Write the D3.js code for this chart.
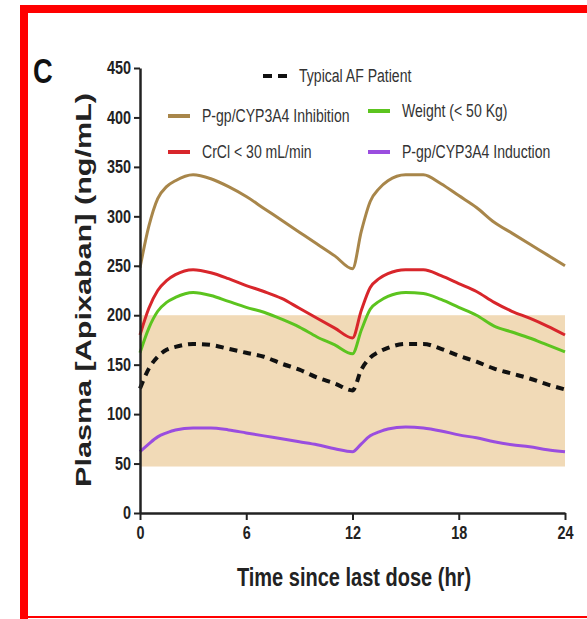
<!DOCTYPE html>
<html>
<head>
<meta charset="utf-8">
<script src="https://cdn.jsdelivr.net/npm/d3@7.9.0/dist/d3.min.js"></script>
<style>
  body { margin: 0; background: #fff; }
  svg { display: block; }
  .tick text { font-family: "Liberation Sans", Arial, sans-serif; font-weight: bold; font-size: 18px; fill: #222; }
  .legend text { font-family: "Liberation Sans", Arial, sans-serif; font-size: 18px; fill: #333; }
</style>
</head>
<body>
<svg id="chart" width="587" height="619"></svg>
<script>
// hours after dose
const hours = [0, 0.5, 1, 1.5, 2, 3, 4, 5, 6, 7, 8, 9, 10, 11, 12,
  12.5, 13, 13.5, 14, 15, 16, 17, 18, 19, 20, 21, 22, 23, 24];

const inhibition = [248, 290, 318, 330, 336, 342, 338, 330, 320, 308, 296, 284, 272, 260, 247,
  285, 315, 328, 336, 342, 342, 333, 321, 309, 294, 283, 272, 261, 250];
const crcl = [180, 207, 225, 235, 241, 246, 243, 237, 230, 224, 217, 207, 197, 187, 177,
  205, 228, 237, 242, 246, 246, 240, 232, 224, 213, 204, 197, 189, 180];
const weight = [162, 187, 204, 213, 218, 223, 220, 214, 208, 203, 196, 188, 178, 170, 161,
  185, 206, 214, 219, 223, 222, 216, 208, 200, 189, 183, 177, 170, 163];
const typical = [126, 146, 158, 165, 168, 171, 170, 166, 162, 158, 151, 145, 137, 131, 124,
  145, 157, 163, 167, 171, 171, 166, 159, 153, 146, 141, 136, 130, 125];
const induction = [62, 70, 77, 81, 84, 86, 86, 84, 81, 78, 75, 72, 69, 65, 62,
  70, 78, 82, 85, 87, 86, 83, 79, 76, 72, 69, 67, 64, 62];

// therapeutic range band
const bandRange = [47, 200];

const yTicks = [0, 50, 100, 150, 200, 250, 300, 350, 400, 450];
const xTicks = [0, 6, 12, 18, 24];

const svg = d3.select('#chart');

// squeeze text horizontally, the figure uses a condensed face
function narrow(sel, f) {
  sel.each(function () {
    let w = this.getComputedTextLength();
    d3.select(this).attr('textLength', w * f).attr('lengthAdjust', 'spacingAndGlyphs');
  });
}

// red frame
svg.append('rect').attr('x', 20).attr('y', 5).attr('width', 567).attr('height', 8).attr('fill', '#ff0000');
svg.append('rect').attr('x', 20).attr('y', 5).attr('width', 8).attr('height', 614).attr('fill', '#ff0000');
svg.append('rect').attr('x', 20).attr('y', 616).attr('width', 567).attr('height', 2).attr('fill', '#ff0000');

let x = d3.scaleLinear().domain([0, 24]).range([140, 565]);
let y = d3.scaleLinear().domain([0, 450]).range([513, 68]);

// band
svg.append('rect')
  .attr('x', x(0))
  .attr('y', y(bandRange[1]))
  .attr('width', x(24) - x(0))
  .attr('height', y(bandRange[0]) - y(bandRange[1]))
  .attr('fill', '#f1dab7');

let line = d3.line().x((d, i) => x(hours[i])).y(d => y(d)).curve(d3.curveMonotoneX);

const series = [
  { values: inhibition, color: '#a8864a', dash: null, width: 3 },
  { values: crcl, color: '#d8262b', dash: null, width: 3 },
  { values: weight, color: '#5cc41f', dash: null, width: 3 },
  { values: induction, color: '#9a4ddf', dash: null, width: 3 },
  { values: typical, color: '#111', dash: '8,6', width: 4 }
];

series.forEach(s => {
  svg.append('path')
    .attr('d', line(s.values))
    .attr('fill', 'none')
    .attr('stroke', s.color)
    .attr('stroke-width', s.width)
    .attr('stroke-dasharray', s.dash);
});

// axes
let yAxis = svg.append('g')
  .attr('transform', `translate(${x(0)},0)`)
  .call(d3.axisLeft(y).tickValues(yTicks).tickSize(6).tickSizeOuter(0).tickPadding(3));
let xAxis = svg.append('g')
  .attr('transform', `translate(0,${y(0)})`)
  .call(d3.axisBottom(x).tickValues(xTicks).tickSize(7).tickSizeOuter(0).tickPadding(6));

[yAxis, xAxis].forEach(a => {
  a.select('.domain').attr('stroke', '#222').attr('stroke-width', 2.5);
  a.selectAll('.tick line').attr('stroke', '#222').attr('stroke-width', 2);
  narrow(a.selectAll('.tick text'), 0.8);
});

// labels
svg.append('text')
  .attr('x', 33).attr('y', 83)
  .attr('font-family', '"Liberation Sans", Arial, sans-serif')
  .attr('font-weight', 'bold').attr('font-size', 35).attr('fill', '#111')
  .text('C')
  .call(narrow, 0.78);

svg.append('text')
  .attr('transform', 'translate(91,290) rotate(-90)')
  .attr('text-anchor', 'middle')
  .attr('font-family', '"Liberation Sans", Arial, sans-serif')
  .attr('font-weight', 'bold').attr('font-size', 22).attr('fill', '#222')
  .attr('textLength', 394).attr('lengthAdjust', 'spacingAndGlyphs')
  .text('Plasma [Apixaban] (ng/mL)');

svg.append('text')
  .attr('x', 354).attr('y', 586)
  .attr('text-anchor', 'middle')
  .attr('font-family', '"Liberation Sans", Arial, sans-serif')
  .attr('font-weight', 'bold').attr('font-size', 25).attr('fill', '#222')
  .text('Time since last dose (hr)')
  .call(narrow, 0.8);

// legend
const legendItems = [
  { label: 'Typical AF Patient', color: '#111', dash: '9,6', x: 263, y: 76, w: 24 },
  { label: 'P-gp/CYP3A4 Inhibition', color: '#a8864a', dash: null, x: 168, y: 116, w: 22 },
  { label: 'Weight (< 50 Kg)', color: '#5cc41f', dash: null, x: 368, y: 111, w: 22 },
  { label: 'CrCl < 30 mL/min', color: '#d8262b', dash: null, x: 168, y: 152, w: 22 },
  { label: 'P-gp/CYP3A4 Induction', color: '#9a4ddf', dash: null, x: 368, y: 152, w: 22 }
];

let legend = svg.append('g').attr('class', 'legend');
legendItems.forEach(d => {
  legend.append('line')
    .attr('x1', d.x).attr('x2', d.x + d.w)
    .attr('y1', d.y).attr('y2', d.y)
    .attr('stroke', d.color).attr('stroke-width', 4)
    .attr('stroke-dasharray', d.dash);
  legend.append('text')
    .attr('x', d.x + d.w + 12)
    .attr('y', d.y + 6)
    .text(d.label)
    .call(narrow, 0.78);
});
</script>
</body>
</html>
